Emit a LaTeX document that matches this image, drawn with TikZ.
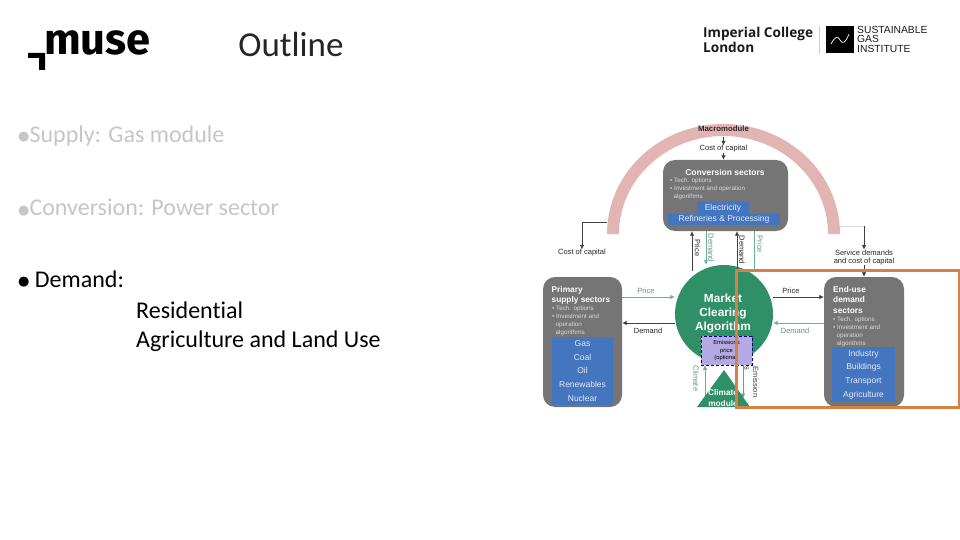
\documentclass[tikz,border=0pt]{standalone}
\usepackage{fontspec}
\setmainfont[Ligatures=NoCommon]{Carlito}
\newfontfamily\dgm{Liberation Sans}
\newfontfamily\dejav{DejaVu Sans}
\newfontfamily\logofont{Fira Sans}
\newfontfamily\impfont{Open Sans}
\usetikzlibrary{arrows.meta,shapes.geometric}
\definecolor{boxgray}{HTML}{757575}
\definecolor{bluefill}{HTML}{4475BF}
\definecolor{mktgreen}{HTML}{2F8F66}
\definecolor{linegreen}{HTML}{6FAF97}
\definecolor{archpink}{HTML}{E3B4B4}
\definecolor{lav}{HTML}{B5A9E3}
\definecolor{orangeb}{HTML}{D8803F}
\definecolor{paleg}{HTML}{C6C6C6}
\definecolor{bluetext}{HTML}{E2EAF6}
\newcommand{\bul}{\raisebox{1.5pt}{\dejav\fontsize{13}{14}\selectfont ●}}
\tikzset{
  x=1pt,y=-1pt,
  graybox/.style={draw=none,fill=boxgray,rounded corners=12pt,inner sep=0pt},
  bluebox/.style={fill=bluefill,inner sep=0pt,text=bluetext,font=\dgm\fontsize{8.5}{13.8}\selectfont},
  sect/.style={text=white,font=\dgm\bfseries\fontsize{8.3}{10.6}\selectfont,align=left,anchor=north west,inner sep=0pt},
  small/.style={text=white!85!black,font=\dgm\fontsize{6.3}{8}\selectfont,align=left,anchor=north west,inner sep=0pt},
  lab/.style={font=\dgm\fontsize{7.5}{8.5}\selectfont,inner sep=0pt,text=black!85},
  glab/.style={lab,text=linegreen!85!black},
  arr/.style={-{Latex[length=4.5pt,width=4.5pt]},line width=.7pt,draw=black!75},
  garr/.style={-{Latex[length=4.5pt,width=4.5pt]},line width=.7pt,draw=linegreen},
  outl/.style={font=\fontsize{24}{28}\selectfont,anchor=west,inner sep=0pt},
}
\begin{document}
\begin{tikzpicture}
\useasboundingbox (0,0) rectangle (960,540);
\fill[white] (0,0) rectangle (960,540);
% header text
\node[font=\fontsize{35}{38}\selectfont,inner sep=0pt,text=black!85] (title) at (291,44) {Outline};
\node[outl,text=paleg] (s1) at (18,136) {\bul Supply: Gas module};
\node[outl,text=paleg] (s2) at (18,207.5) {\bul Conversion: Power sector};
\node[outl] (s3) at (18,279) {\bul\ Demand:};
\node[outl] (s4) at (136,310) {Residential};
\node[outl] (s5) at (136,341) {Agriculture and Land Use};
% logos
\node[font=\logofont\bfseries\fontsize{43.5}{44}\selectfont,anchor=base west,inner sep=0pt] (muse) at (44,54.5) {muse};
\fill[black] (28,53) rectangle (45,58) (39,53) rectangle (45,70);
\node[font=\impfont\bfseries\fontsize{13.6}{15}\selectfont,anchor=north west,align=left,inner sep=0pt,text=black!90] (imp) at (703,27) {Imperial College\\London};
\draw[black!20,line width=.6pt] (819,26) -- (819,54);
\node[fill=black,minimum width=28pt,minimum height=27pt,inner sep=0pt] (sgibox) at (840,39.5) {};
\draw[white,line width=.7pt] (831,44) .. controls (835,36) and (838,36) .. (840,40) .. controls (842,44) and (845,44) .. (849,34);
\node[font=\dgm\fontsize{10.3}{9.6}\selectfont,anchor=north west,align=left,inner sep=0pt,text=black!90] (sgi) at (857,26) {SUSTAINABLE\\GAS\\INSTITUTE};
% arch
\fill[archpink] (607,234) arc[start angle=180,end angle=0,x radius=116.5,y radius=-110] -- (828,234) arc[start angle=0,end angle=180,x radius=104.5,y radius=-98] -- cycle;
% named anchors
\coordinate (rowA) at (0,297);
\coordinate (rowB) at (0,323);
% boxes
\node[graybox,minimum width=125pt,minimum height=71pt] (conv) at (725.5,195.5) {};
\node[graybox,minimum width=79pt,minimum height=130pt] (prim) at (582.5,342) {};
\node[graybox,minimum width=80pt,minimum height=130pt] (endu) at (864,342) {};
\node[circle,fill=mktgreen,minimum size=98pt,inner sep=0pt] (mkt) at (724,314) {};
\node[font=\dgm\bfseries\fontsize{11.8}{14}\selectfont,text=white,align=center,inner sep=0pt] (mktt) at (723,313) {Market\\Clearing\\Algorithm};
\node[draw=blue!50!black,densely dashed,line width=.6pt,fill=lav,minimum width=51pt,minimum height=29pt,inner sep=0pt,font=\dgm\fontsize{5.8}{7.5}\selectfont,align=center] (emis) at (726.5,350.5) {Emissions\\price\\(optional)};
% climate/emissions connectors (behind the triangle)
\coordinate (climB) at (705,405);
\coordinate (emiT) at (743,365);
\coordinate (emiB) at (743,398);
\draw[garr] (climB) -- (climB |- emis.south);
\draw[-{Latex[length=4.5pt,width=4.5pt]},line width=.5pt,draw=black!45] (emiT) -- (emiB);
\fill[mktgreen] (697,407) -- (724,370) -- (750,407) -- cycle;
\node[font=\dgm\bfseries\fontsize{8.3}{11}\selectfont,text=white,align=center,inner sep=0pt] (clim) at (723,398.5) {Climate\\module};
% conversion contents
\node[font=\dgm\bfseries\fontsize{8.5}{9}\selectfont,text=white,inner sep=0pt] (convt) at (725,172) {Conversion sectors};
\node[small] (convs) at (670,178) {• Tech. options\\• Investment and operation\\\ \ algorithms};
\node[bluebox,minimum width=52pt,minimum height=12pt] (elec) at (723,208) {Electricity};
\node[bluebox,minimum width=112pt,minimum height=11.5pt] (refi) at (724,219.7) {Refineries \& Processing};
% primary contents
\node[sect] (primt) at (551.5,286) {Primary\\supply sectors};
\node[small] (prims) at (552,306) {• Tech. options\\• Investment and\\\ \ operation\\\ \ algorithms};
\node[bluebox,minimum width=61pt,minimum height=68pt,text width=61pt,align=center] (primb) at (582.5,371) {Gas\\Coal\\Oil\\Renewables\\Nuclear};
% end-use contents
\node[sect] (endt) at (833,286) {End-use\\demand\\sectors};
\node[small] (ends) at (833,317) {• Tech. options\\• Investment and\\\ \ operation\\\ \ algorithms};
\node[bluebox,minimum width=63pt,minimum height=55pt,text width=63pt,align=center] (endb) at (863.5,374.5) {Industry\\Buildings\\Transport\\Agriculture};
% top labels
\node[font=\dgm\bfseries\fontsize{7.8}{8}\selectfont,inner sep=0pt,text=black!85] (macro) at (723.5,129) {Macromodule};
\node[lab] (coc) at (723.5,149) {Cost of capital};
\coordinate (archTop) at (723.5,137);
\draw[arr] (archTop) -- (coc.north);
\draw[arr] (coc.south) -- (conv.north -| coc.south);
\node[lab] (cocl) at (582,253) {Cost of capital};
\coordinate (archL) at (607,222);
\draw[arr] (archL) -| (cocl.north);
\node[lab,align=center] (svc) at (864,257.5) {Service demands\\and cost of capital};
\coordinate (archR) at (840,226);
\coordinate (archRb) at (864,226);
\draw[black!15,line width=.5pt] (archR) -- (archRb);
\draw[arr] (archRb) -- (svc.north);
\draw[arr] (svc.south) -- (endu.north);
% horizontal flows
\draw[garr] (prim.east |- rowA) -- (mkt.west |- rowA);
\draw[arr] (mkt.west |- rowB) -- (prim.east |- rowB);
\node[glab] (pl) at (646,291) {Price};
\node[lab] (dl) at (648,331) {Demand};
\draw[arr] (mkt.east |- rowA) -- (endu.west |- rowA);
\draw[garr] (endu.west |- rowB) -- (mkt.east |- rowB);
\node[lab] (pr) at (791,291) {Price};
\node[glab] (dr) at (795,331) {Demand};
% vertical flows
\coordinate (v1) at (692,271); \coordinate (v2) at (706,0); \coordinate (v3) at (737,272); \coordinate (v4) at (754,272);
\draw[arr] (v1) -- (v1 |- conv.south);
\draw[garr] (v2 |- conv.south) -- (v2 |- mkt.north);
\draw[arr] (v3) -- (v3 |- conv.south);
\draw[linegreen,line width=.7pt] (v4 |- conv.south) -- (v4);
\node[lab,rotate=-90] (vp1) at (697.5,248) {Price};
\node[glab,rotate=-90] (vd2) at (711,248) {Demand};
\node[lab,rotate=-90] (vd3) at (742,250) {Demand};
\node[glab,rotate=-90] (vp4) at (760,244.5) {Price};
\node[glab,rotate=-90] (vcl) at (696,378.5) {Climate};
\node[lab,rotate=-90,align=left,text=black!75] (vem) at (751.5,382) {Emission\\s};
% highlight
\draw[orangeb,line width=3pt] (736.5,270) rectangle (959,407);
\end{tikzpicture}
\end{document}
